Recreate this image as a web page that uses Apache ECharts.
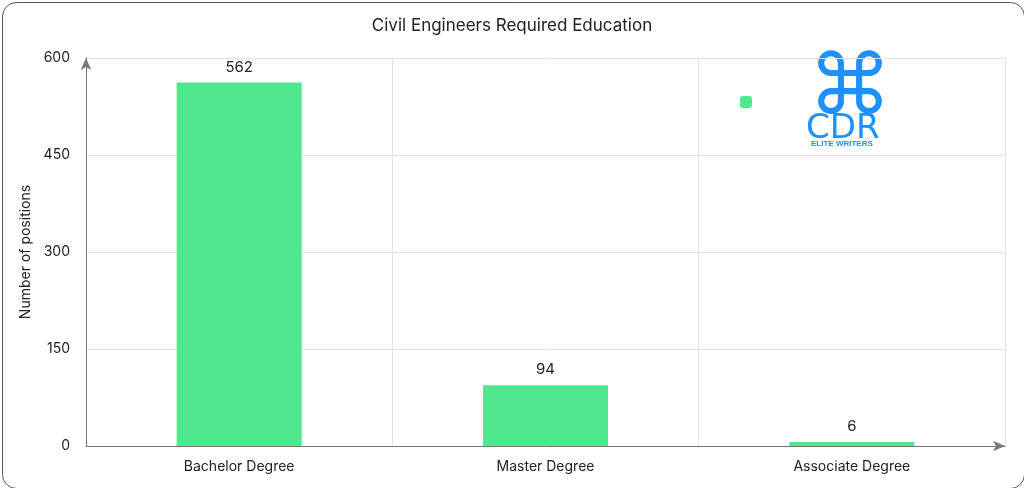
<!DOCTYPE html>
<html>
<head>
<meta charset="utf-8">
<script src="https://cdn.jsdelivr.net/npm/echarts@6/dist/echarts.min.js"></script>
<style>
  html, body { margin: 0; padding: 0; background: #fff; }
  #main { width: 1024px; height: 488px; }
</style>
</head>
<body>
<div id="main"></div>
<script>
var categories = ['Bachelor Degree', 'Master Degree', 'Associate Degree'];
var positions = [562, 94, 6];
var yTicks = [0, 150, 300, 450, 600];

var chart = echarts.init(document.getElementById('main'));

var option = {
  animation: false,
  textStyle: { fontFamily: 'Inter, Roboto, sans-serif' },
  title: {
    text: 'Civil Engineers Required Education',
    left: 'center',
    top: 12,
    textStyle: { fontSize: 17, fontWeight: 'normal', color: '#222' }
  },
  legend: {
    data: [{ name: ' ', icon: 'roundRect' }],
    left: 735, top: 91,
    itemWidth: 12, itemHeight: 12,
    textStyle: { fontSize: 1 }
  },
  grid: { left: 86, right: 19, top: 58, bottom: 42 },
  xAxis: {
    type: 'category',
    data: categories,
    axisLine: { lineStyle: { color: '#777' }, symbol: ['none', 'arrow'], symbolSize: [8, 12] },
    axisTick: { show: false },
    axisLabel: { fontSize: 14, color: '#222', margin: 14 },
    splitLine: { show: true, lineStyle: { color: '#e3e3e3' } }
  },
  yAxis: {
    type: 'value',
    min: 0, max: 600, interval: 150,
    name: 'Number of positions',
    nameLocation: 'middle',
    nameGap: 48,
    nameTextStyle: { fontSize: 14, color: '#222' },
    axisLine: { show: true, lineStyle: { color: '#777' }, symbol: ['none', 'arrow'], symbolSize: [8, 12] },
    axisLabel: { fontSize: 14, color: '#222', margin: 16 },
    splitLine: { lineStyle: { color: '#e3e3e3' } }
  },
  graphic: [
    { type: 'rect', left: 0, top: 0, shape: { width: 1022, height: 486, r: 14 },
      style: { fill: 'none', stroke: '#555', lineWidth: 1 } },
    { type: 'text', left: 808, top: 50,
      style: { text: '\u2318', fontSize: 84, fill: '#1e90ff', fontFamily: 'DejaVu Sans' } },
    { type: 'text', left: 806, top: 112,
      style: { text: 'CDR', fontSize: 34, fill: '#1e90ff', fontFamily: 'DejaVu Sans' } },
    { type: 'text', left: 811, top: 140,
      style: { text: 'ELITE WRITERS', fontSize: 8, fontWeight: 'bold', fill: '#1e90ff' } }
  ],
  series: [{
    name: ' ',
    type: 'bar',
    data: positions,
    barWidth: 125,
    itemStyle: { color: '#50e88f' },
    label: { show: true, position: 'top', fontSize: 15, color: '#222', distance: 8 }
  }]
};

chart.setOption(option);
</script>
</body>
</html>
